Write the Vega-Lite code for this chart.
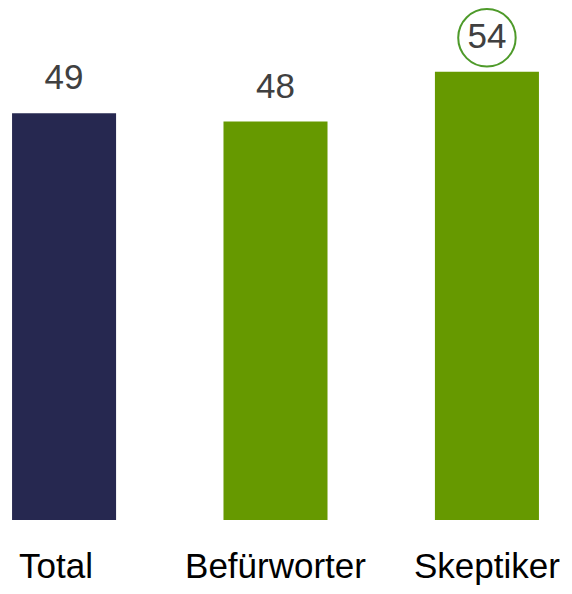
{
  "$schema": "https://vega.github.io/schema/vega-lite/v6.json",
  "width": 551,
  "height": 520,
  "autosize": {"type": "none"},
  "padding": {"left": 0, "top": 0, "right": 21, "bottom": 74},
  "background": "white",
  "config": {"view": {"stroke": null}, "font": "Liberation Sans"},
  "data": {"values": [
    {"group": "Total", "value": 49},
    {"group": "Befürworter", "value": 48},
    {"group": "Skeptiker", "value": 54}
  ]},
  "encoding": {
    "x": {"field": "group", "type": "nominal", "sort": null,
      "scale": {"paddingInner": 0.508, "paddingOuter": 0.057},
      "axis": {"title": null, "domain": false, "ticks": false, "labelAngle": 0,
        "labelFont": "Liberation Sans", "labelFontSize": 35, "labelColor": "#000000",
        "labelBaseline": "alphabetic", "labelPadding": 57, "labelLimit": 400,
        "labelOffset": {"condition": {"test": "datum.value === 'Total'", "value": -8}, "value": 0}}},
    "y": {"field": "value", "type": "quantitative",
      "scale": {"domain": [0, 62.65], "nice": false, "zero": true},
      "axis": null}
  },
  "layer": [
    {"mark": {"type": "bar"},
     "encoding": {"color": {"field": "group", "type": "nominal", "legend": null,
       "scale": {"domain": ["Total", "Befürworter", "Skeptiker"], "range": ["#262850", "#669900", "#669900"]}}}},
    {"mark": {"type": "text", "dy": -35, "baseline": "middle", "fontSize": 35, "color": "#404040", "font": "Liberation Sans"},
     "encoding": {"text": {"field": "value", "type": "quantitative"}}},
    {"transform": [{"filter": "datum.group === 'Skeptiker'"}],
     "mark": {"type": "point", "shape": "circle", "filled": false, "size": 3300, "stroke": "#4e9a2a", "strokeWidth": 2, "opacity": 1, "yOffset": -34}}
  ]
}
